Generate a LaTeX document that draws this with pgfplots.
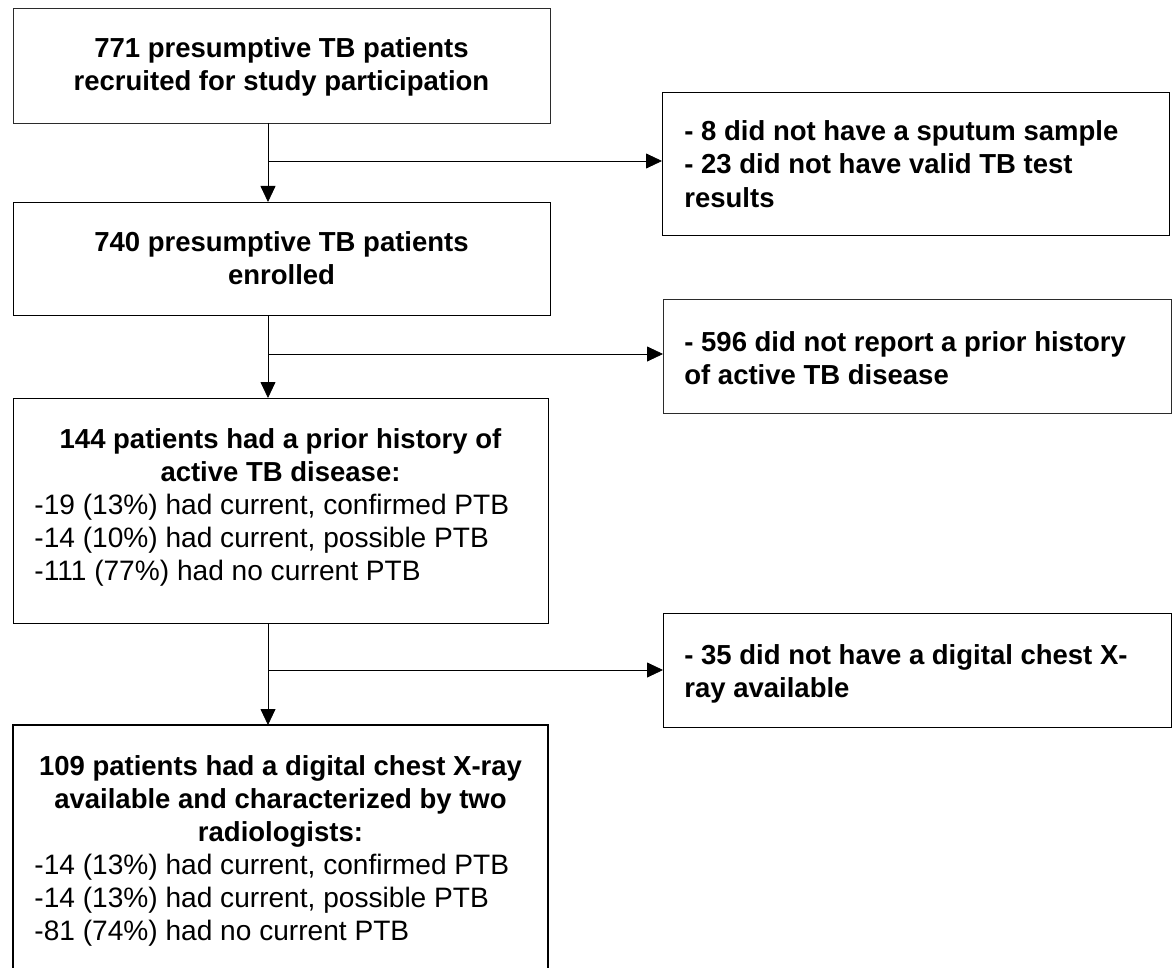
\documentclass[border=0pt]{standalone}
\usepackage{fontspec}
\setmainfont{Liberation Sans}
\usepackage{pgfplots}
\pgfplotsset{compat=1.18}
\usetikzlibrary{arrows.meta}
\definecolor{ln}{HTML}{2B2B2B}
\newcommand{\fs}{\fontsize{13.75bp}{16.5bp}\selectfont}
\newcommand{\fr}{\fontsize{14.05bp}{16.5bp}\selectfont}
\begin{document}
\begin{tikzpicture}
\begin{axis}[
  scale only axis, width=586.5bp, height=484bp,
  xmin=0, xmax=1173, ymin=0, ymax=968, y dir=reverse,
  hide axis, clip=true,
  cycle list={{ln, solid, mark=none, line width=0.8bp, line join=miter}},
]
% boxes
\addplot coordinates {(280,8)(550,8)(550,123)(13,123)(13,8)(280,8)};
\addplot coordinates {(280,202)(550,202)(550,315)(13,315)(13,202)(280,202)};
\addplot coordinates {(280,398)(548,398)(548,623)(13,623)(13,398)(280,398)};
\addplot coordinates {(13,968)(13,725)(548,725)(548,968)};
\addplot coordinates {(900,92)(1169,92)(1169,235)(662,235)(662,92)(900,92)};
\addplot coordinates {(900,299)(1171,299)(1171,413)(663,413)(663,299)(900,299)};
\addplot coordinates {(900,613)(1171,613)(1171,727)(663,727)(663,613)(900,613)};
% arrows
\addplot[-{Triangle[length=8bp,width=7.5bp]}] coordinates {(268,123)(268,202)};
\addplot[-{Triangle[length=8bp,width=7.5bp]}] coordinates {(268,161)(662,161)};
\addplot[-{Triangle[length=8bp,width=7.5bp]}] coordinates {(268,315)(268,398)};
\addplot[-{Triangle[length=8bp,width=7.5bp]}] coordinates {(268,354)(663,354)};
\addplot[-{Triangle[length=8bp,width=7.5bp]}] coordinates {(268,623)(268,725)};
\addplot[-{Triangle[length=8bp,width=7.5bp]}] coordinates {(268,670)(663,670)};
% texts
\begin{scope}[every node/.style={inner sep=0pt}]
\node[anchor=base, font=\fs\bfseries] at (axis cs:281.5,58) {771 presumptive TB patients};
\node[anchor=base, font=\fs\bfseries] at (axis cs:281.5,91) {recruited for study participation};
\node[anchor=base, font=\fs\bfseries] at (axis cs:281.5,251) {740 presumptive TB patients};
\node[anchor=base, font=\fs\bfseries] at (axis cs:281.5,284) {enrolled};
\node[anchor=base, font=\fs\bfseries] at (axis cs:280.5,448) {144 patients had a prior history of};
\node[anchor=base, font=\fs\bfseries] at (axis cs:280.5,481) {active TB disease:};
\node[anchor=base west, font=\fr] at (axis cs:34,514) {-19 (13\%) had current, confirmed PTB};
\node[anchor=base west, font=\fr] at (axis cs:34,547) {-14 (10\%) had current, possible PTB};
\node[anchor=base west, font=\fr] at (axis cs:34,580) {-111 (77\%) had no current PTB};
\node[anchor=base, font=\fs\bfseries] at (axis cs:280.5,775) {109 patients had a digital chest X-ray};
\node[anchor=base, font=\fs\bfseries] at (axis cs:280.5,808) {available and characterized by two};
\node[anchor=base, font=\fs\bfseries] at (axis cs:280.5,841) {radiologists:};
\node[anchor=base west, font=\fr] at (axis cs:34,874) {-14 (13\%) had current, confirmed PTB};
\node[anchor=base west, font=\fr] at (axis cs:34,907) {-14 (13\%) had current, possible PTB};
\node[anchor=base west, font=\fr] at (axis cs:34,940) {-81 (74\%) had no current PTB};
\node[anchor=base west, font=\fs\bfseries] at (axis cs:684,141) {- 8 did not have a sputum sample};
\node[anchor=base west, font=\fs\bfseries] at (axis cs:684,174) {- 23 did not have valid TB test};
\node[anchor=base west, font=\fs\bfseries] at (axis cs:684,207) {results};
\node[anchor=base west, font=\fs\bfseries] at (axis cs:684,351) {- 596 did not report a prior history};
\node[anchor=base west, font=\fs\bfseries] at (axis cs:684,384) {of active TB disease};
\node[anchor=base west, font=\fs\bfseries] at (axis cs:684,664) {- 35 did not have a digital chest X-};
\node[anchor=base west, font=\fs\bfseries] at (axis cs:684,697) {ray available};
\end{scope}
\end{axis}
\path (current axis.south west) rectangle (current axis.north east);
\end{tikzpicture}
\end{document}
